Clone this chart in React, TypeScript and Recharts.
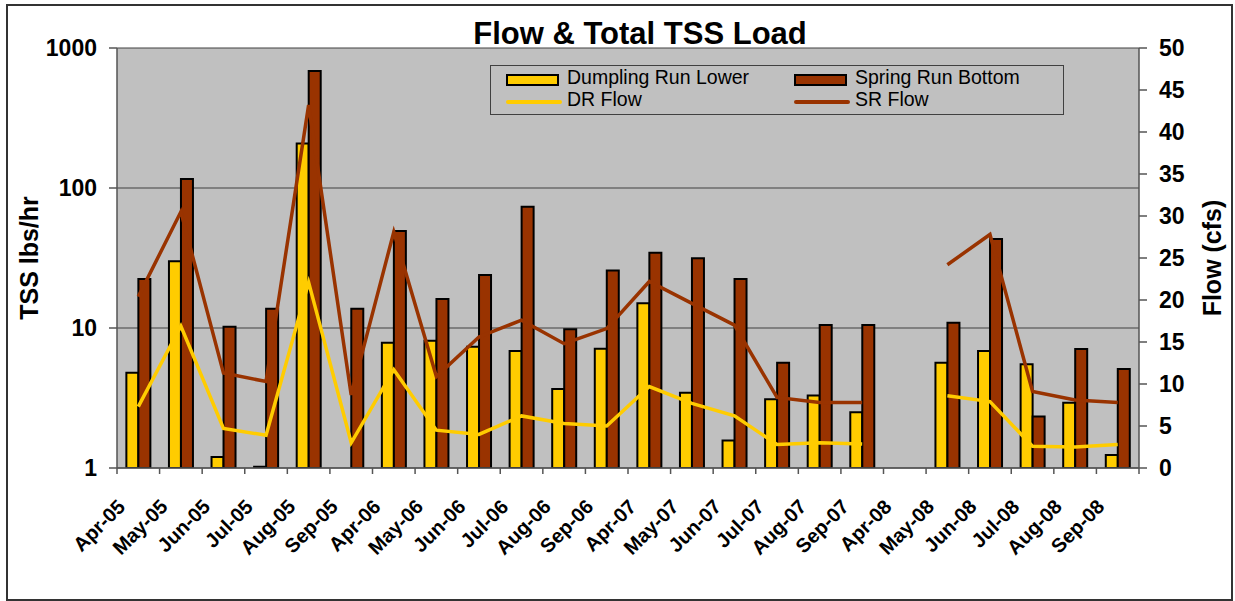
import { ComposedChart, Bar, Line, XAxis, YAxis, CartesianGrid, Legend } from 'recharts';

// months sampled (Apr-08 has no data)
const months = [
  'Apr-05', 'May-05', 'Jun-05', 'Jul-05', 'Aug-05', 'Sep-05',
  'Apr-06', 'May-06', 'Jun-06', 'Jul-06', 'Aug-06', 'Sep-06',
  'Apr-07', 'May-07', 'Jun-07', 'Jul-07', 'Aug-07', 'Sep-07',
  'Apr-08', 'May-08', 'Jun-08', 'Jul-08', 'Aug-08', 'Sep-08',
];

// TSS load, lbs/hr (left, log axis)
const drLoad = [
  4.8, 30, 1.2, 1.02, 208, null,
  7.85, 8.1, 7.35, 6.85, 3.67, 7.1,
  15.0, 3.45, 1.57, 3.1, 3.3, 2.5,
  null, 5.65, 6.85, 5.5, 2.93, 1.24,
];
const srLoad = [
  22.4, 116, 10.2, 13.7, 685, 13.7,
  49.3, 16.1, 23.9, 73.5, 9.8, 25.7,
  34.5, 31.5, 22.4, 5.65, 10.5, 10.5,
  null, 10.9, 43.2, 2.33, 7.08, 5.1,
];

// flow, cfs (right axis)
const drFlow = [
  7.3, 16.9, 4.7, 3.9, 22.1, 3.0,
  11.7, 4.5, 4.0, 6.2, 5.3, 5.0,
  9.7, 7.7, 6.2, 2.8, 3.0, 2.85,
  null, 8.6, 7.9, 2.6, 2.5, 2.8,
];
const srFlow = [
  20.4, 30.5, 11.3, 10.3, 43.2, 8.7,
  28.1, 10.9, 15.6, 17.6, 14.8, 16.6,
  22.2, 19.6, 17.0, 8.4, 7.8, 7.8,
  null, 24.2, 27.8, 9.1, 8.1, 7.8,
];

const loadTicks = [1, 10, 100, 1000];
const flowTicks = [0, 5, 10, 15, 20, 25, 30, 35, 40, 45, 50];

const data = months.map((month, i) => ({
  month,
  drLoad: drLoad[i],
  srLoad: srLoad[i],
  drFlow: drFlow[i],
  srFlow: srFlow[i],
}));

const YELLOW = '#FFCC00';
const BROWN = '#993300';
const AXIS = '#555555';
const FONT = 'Arial, "Liberation Sans", sans-serif';

function MonthTick({ x, y, payload, index, visibleTicksCount }: any) {
  const half = payload?.offset ?? 0;
  const edges = [x - half];
  if (index === visibleTicksCount - 1) edges.push(x + half);
  const tx = x - 12;
  const ty = y + 40;
  return (
    <g>
      {edges.map((ex) => (
        <line key={ex} x1={ex} x2={ex} y1={y} y2={y + 6} stroke={AXIS} strokeWidth={1.5} />
      ))}
      <text
        x={tx}
        y={ty}
        transform={`rotate(-45, ${tx}, ${ty})`}
        textAnchor="end"
        fontSize={20}
        fontWeight="bold"
        fill="#000"
      >
        {payload.value}
      </text>
    </g>
  );
}

function axisTitle(text: string, inset: number) {
  return (props: any) => {
    const { viewBox } = props;
    const cx = viewBox.x + inset;
    const cy = viewBox.y + viewBox.height / 2;
    return (
      <text
        x={cx}
        y={cy}
        transform={`rotate(-90, ${cx}, ${cy})`}
        textAnchor="middle"
        dominantBaseline="central"
        fontSize={25}
        fontWeight="bold"
        fill="#000"
      >
        {text}
      </text>
    );
  };
}

function ChartLegend({ payload }: any) {
  const items = payload ?? [];
  const bars = items.filter((p: any) => p.type === 'rect');
  const lines = items.filter((p: any) => p.type === 'line');
  const cols = [15, 303];
  const textStyle = {
    position: 'absolute' as const,
    fontSize: 19.5,
    lineHeight: '18px',
    whiteSpace: 'nowrap' as const,
    color: '#000',
  };
  return (
    <div
      style={{
        position: 'relative',
        width: 574,
        height: 50,
        border: '1.5px solid #404040',
        boxSizing: 'border-box',
        fontFamily: FONT,
      }}
    >
      {bars.map((p: any, i: number) => (
        <div key={`b${i}`}>
          <div
            style={{
              position: 'absolute',
              left: cols[i],
              top: 8,
              width: 53,
              height: 12,
              background: p.color,
              border: '2px solid #000',
              boxSizing: 'border-box',
            }}
          />
          <div style={{ ...textStyle, left: cols[i] + 61, top: 1.5 }}>{p.value}</div>
        </div>
      ))}
      {lines.map((p: any, i: number) => (
        <div key={`l${i}`}>
          <div
            style={{
              position: 'absolute',
              left: cols[i],
              top: 34,
              width: 56,
              height: 4,
              borderRadius: 2,
              background: p.color,
            }}
          />
          <div style={{ ...textStyle, left: cols[i] + 61, top: 24 }}>{p.value}</div>
        </div>
      ))}
    </div>
  );
}

export default function App() {
  return (
    <div style={{ position: 'absolute', left: 0, top: 0, width: 1235, height: 601, background: '#fff', fontFamily: FONT }}>
      <div
        style={{
          position: 'absolute',
          left: 6,
          top: 4,
          width: 1227,
          height: 597,
          border: '2px solid #333',
          boxSizing: 'border-box',
        }}
      />
      <div
        style={{
          position: 'absolute',
          left: 440,
          top: 18,
          width: 400,
          textAlign: 'center',
          fontSize: 31,
          lineHeight: 1,
          fontWeight: 'bold',
          color: '#000',
        }}
      >
        Flow &amp; Total TSS Load
      </div>
      <div style={{ position: 'absolute', left: 0, top: 0 }}>
        <ComposedChart
          width={1235}
          height={601}
          data={data}
          margin={{ top: 48, right: 0, bottom: 0, left: 0 }}
          barCategoryGap="22%"
          barGap={0}
        >
          <CartesianGrid yAxisId="left" vertical={false} fill="#C0C0C0" stroke="#404040" strokeWidth={1} />
          <XAxis
            dataKey="month"
            interval={0}
            height={133}
            tickLine={false}
            tickSize={0}
            tickMargin={0}
            axisLine={{ stroke: AXIS, strokeWidth: 1.5 }}
            tick={<MonthTick />}
          />
          <YAxis
            yAxisId="left"
            scale="log"
            domain={[1, 1000]}
            ticks={loadTicks}
            allowDataOverflow
            interval={0}
            width={117}
            tickSize={8}
            tickMargin={12}
            axisLine={{ stroke: AXIS, strokeWidth: 1.5 }}
            tickLine={{ stroke: AXIS, strokeWidth: 1.5 }}
            tick={{ fontSize: 23, fontWeight: 'bold', fill: '#000' }}
            label={{ content: axisTitle('TSS lbs/hr', 29) }}
          />
          <YAxis
            yAxisId="right"
            orientation="right"
            domain={[0, 50]}
            ticks={flowTicks}
            interval={0}
            width={96}
            tickSize={8}
            tickMargin={12}
            axisLine={{ stroke: AXIS, strokeWidth: 1.5 }}
            tickLine={{ stroke: AXIS, strokeWidth: 1.5 }}
            tick={{ fontSize: 23, fontWeight: 'bold', fill: '#000' }}
            label={{ content: axisTitle('Flow (cfs)', 73) }}
          />
          <Legend
            verticalAlign="middle"
            align="center"
            wrapperStyle={{ left: 490, top: 65, width: 574, height: 50 }}
            content={<ChartLegend />}
          />
          <Bar
            yAxisId="left"
            dataKey="drLoad"
            name="Dumpling Run Lower"
            fill={YELLOW}
            stroke="#000"
            strokeWidth={2}
            isAnimationActive={false}
          />
          <Bar
            yAxisId="left"
            dataKey="srLoad"
            name="Spring Run Bottom"
            fill={BROWN}
            stroke="#000"
            strokeWidth={2}
            isAnimationActive={false}
          />
          <Line
            yAxisId="right"
            dataKey="drFlow"
            name="DR Flow"
            type="linear"
            stroke={YELLOW}
            strokeWidth={3.5}
            dot={false}
            activeDot={false}
            isAnimationActive={false}
          />
          <Line
            yAxisId="right"
            dataKey="srFlow"
            name="SR Flow"
            type="linear"
            stroke={BROWN}
            strokeWidth={3.5}
            dot={false}
            activeDot={false}
            isAnimationActive={false}
          />
        </ComposedChart>
      </div>
    </div>
  );
}
